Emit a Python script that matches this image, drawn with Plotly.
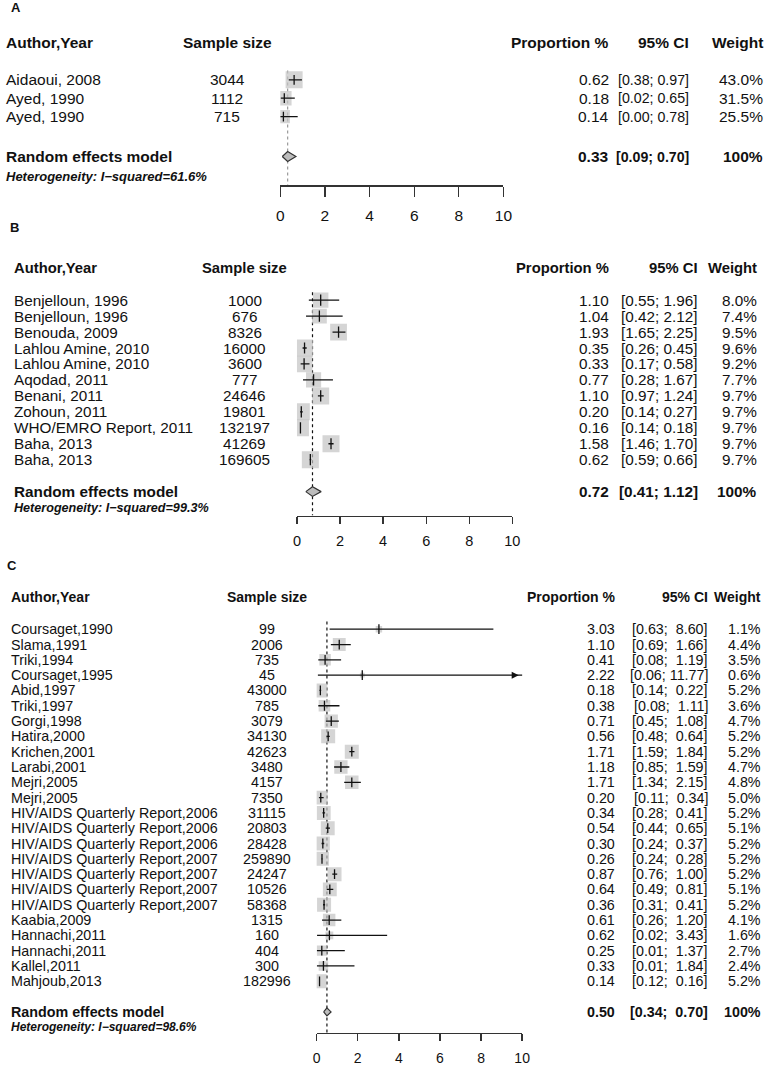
import plotly.graph_objects as go

W, H = 774, 1066
FONT = "Liberation Sans, Arial, Helvetica, sans-serif"

# ---------------- data ----------------
# Panel A
a_author = ["Aidaoui, 2008", "Ayed, 1990", "Ayed, 1990"]
a_n = [3044, 1112, 715]
a_prop = [0.62, 0.18, 0.14]
a_lo = [0.38, 0.02, 0.00]
a_hi = [0.97, 0.65, 0.78]
a_w = [43.0, 31.5, 25.5]
a_pooled = [0.33, 0.09, 0.70]
a_i2 = 61.6

# Panel B
b_author = ["Benjelloun, 1996", "Benjelloun, 1996", "Benouda, 2009", "Lahlou Amine, 2010",
            "Lahlou Amine, 2010", "Aqodad, 2011", "Benani, 2011", "Zohoun, 2011",
            "WHO/EMRO Report, 2011", "Baha, 2013", "Baha, 2013"]
b_n = [1000, 676, 8326, 16000, 3600, 777, 24646, 19801, 132197, 41269, 169605]
b_prop = [1.10, 1.04, 1.93, 0.35, 0.33, 0.77, 1.10, 0.20, 0.16, 1.58, 0.62]
b_lo = [0.55, 0.42, 1.65, 0.26, 0.17, 0.28, 0.97, 0.14, 0.14, 1.46, 0.59]
b_hi = [1.96, 2.12, 2.25, 0.45, 0.58, 1.67, 1.24, 0.27, 0.18, 1.70, 0.66]
b_w = [8.0, 7.4, 9.5, 9.6, 9.2, 7.7, 9.7, 9.7, 9.7, 9.7, 9.7]
b_pooled = [0.72, 0.41, 1.12]
b_i2 = 99.3

# Panel C
c_author = ["Coursaget,1990", "Slama,1991", "Triki,1994", "Coursaget,1995", "Abid,1997",
            "Triki,1997", "Gorgi,1998", "Hatira,2000", "Krichen,2001", "Larabi,2001",
            "Mejri,2005", "Mejri,2005",
            "HIV/AIDS Quarterly Report,2006", "HIV/AIDS Quarterly Report,2006",
            "HIV/AIDS Quarterly Report,2006", "HIV/AIDS Quarterly Report,2007",
            "HIV/AIDS Quarterly Report,2007", "HIV/AIDS Quarterly Report,2007",
            "HIV/AIDS Quarterly Report,2007", "Kaabia,2009", "Hannachi,2011",
            "Hannachi,2011", "Kallel,2011", "Mahjoub,2013"]
c_n = [99, 2006, 735, 45, 43000, 785, 3079, 34130, 42623, 3480, 4157, 7350,
       31115, 20803, 28428, 259890, 24247, 10526, 58368, 1315, 160, 404, 300, 182996]
c_prop = [3.03, 1.10, 0.41, 2.22, 0.18, 0.38, 0.71, 0.56, 1.71, 1.18, 1.71, 0.20,
          0.34, 0.54, 0.30, 0.26, 0.87, 0.64, 0.36, 0.61, 0.62, 0.25, 0.33, 0.14]
c_lo = [0.63, 0.69, 0.08, 0.06, 0.14, 0.08, 0.45, 0.48, 1.59, 0.85, 1.34, 0.11,
        0.28, 0.44, 0.24, 0.24, 0.76, 0.49, 0.31, 0.26, 0.02, 0.01, 0.01, 0.12]
c_hi = [8.60, 1.66, 1.19, 11.77, 0.22, 1.11, 1.08, 0.64, 1.84, 1.59, 2.15, 0.34,
        0.41, 0.65, 0.37, 0.28, 1.00, 0.81, 0.41, 1.20, 3.43, 1.37, 1.84, 0.16]
c_w = [1.1, 4.4, 3.5, 0.6, 5.2, 3.6, 4.7, 5.2, 5.2, 4.7, 4.8, 5.0,
       5.2, 5.1, 5.2, 5.2, 5.2, 5.1, 5.2, 4.1, 1.6, 2.7, 2.4, 5.2]
c_pooled = [0.50, 0.34, 0.70]
c_i2 = 98.6

x_ticks = [0, 2, 4, 6, 8, 10]
x_range = [0, 10]

# ---------------- layout per panel (pixels) ----------------
panels = [
    dict(label="A", authors=a_author, n=a_n, prop=a_prop, lo=a_lo, hi=a_hi, w=a_w,
         pooled=a_pooled, i2=a_i2, pad_ci=False,
         label_xy=(12, 8), header_px=43, row0=80, step=18.5, rand_r=4.16, het_r=5.24,
         axis_px=186, x0px=281, x10px=508, cols=(2, 227, 615, 697, 772),
         f_body=15.5, f_ci=14.2, f_head=15.5, f_het=13, f_tick=15.5, ticklen=10,
         standoff=6, sq_max=17, dot_color="#9a9a9a", tick_sz=7, dh=0.27),
    dict(label="B", authors=b_author, n=b_n, prop=b_prop, lo=b_lo, hi=b_hi, w=b_w,
         pooled=b_pooled, i2=b_i2, pad_ci=False,
         label_xy=(11, 228), header_px=269, row0=301, step=16.0, rand_r=12, het_r=13,
         axis_px=517, x0px=298, x10px=517, cols=(10, 245, 615, 706, 766),
         f_body=15.3, f_ci=15.3, f_head=14.8, f_het=12.6, f_tick=14.5, ticklen=7,
         standoff=5, sq_max=17, dot_color="#111111", tick_sz=8, dh=0.3),
    dict(label="C", authors=c_author, n=c_n, prop=c_prop, lo=c_lo, hi=c_hi, w=c_w,
         pooled=c_pooled, i2=c_i2, pad_ci=True,
         label_xy=(8, 567), header_px=599, row0=631, step=15.35, rand_r=25, het_r=26,
         axis_px=1036, x0px=318, x10px=527, cols=(7, 268, 621, 716, 770),
         f_body=14.3, f_ci=14.3, f_head=14, f_het=12, f_tick=14, ticklen=7,
         standoff=5, sq_max=14, dot_color="#111111", tick_sz=7, dh=0.26),
]

TXT = "#111111"
fig = go.Figure()
annotations = []
layout_axes = {}


def ci_text(lo, hi, pad):
    s_hi = f"{hi:.2f}"
    if pad and len(s_hi) < 5:
        return f"[{lo:.2f};&nbsp; {s_hi}]"
    return f"[{lo:.2f}; {s_hi}]"


for i, p in enumerate(panels):
    k = "" if i == 0 else str(i + 1)
    xa, ya = "x" + k, "y" + k
    row0, step = p["row0"], p["step"]

    def r_of(px):
        return (px - row0) / step

    top_px = p["header_px"] - 14
    layout_axes["xaxis" + k] = dict(
        domain=[p["x0px"] / W, p["x10px"] / W], range=x_range, anchor=ya,
        tickvals=x_ticks, ticks="outside", ticklen=p["ticklen"], tickwidth=1.3,
        tickcolor="#333333", showline=True, linecolor="#333333", linewidth=1.3,
        showgrid=False, zeroline=False, fixedrange=True,
        tickfont=dict(family=FONT, size=p["f_tick"], color=TXT),
        ticklabelstandoff=p["standoff"])
    layout_axes["yaxis" + k] = dict(
        domain=[1 - p["axis_px"] / H, 1 - top_px / H],
        range=[r_of(p["axis_px"]), r_of(top_px)], anchor=xa, visible=False,
        showgrid=False, zeroline=False, fixedrange=True)

    n = len(p["authors"])
    rows = list(range(n))

    # pooled dotted line
    fig.add_trace(go.Scatter(
        x=[p["pooled"][0], p["pooled"][0]], y=[-0.5, r_of(p["axis_px"])],
        mode="lines", line=dict(color=p["dot_color"], width=1.2, dash="dot"),
        xaxis=xa, yaxis=ya, hoverinfo="skip", showlegend=False))

    # squares
    wmax = max(p["w"])
    sizes = [p["sq_max"] * (w / wmax) ** 0.5 for w in p["w"]]
    fig.add_trace(go.Scatter(
        x=p["prop"], y=rows, mode="markers",
        marker=dict(symbol="square", size=sizes, color="#c3c3c3", line=dict(width=0)),
        xaxis=xa, yaxis=ya, hoverinfo="skip", showlegend=False))

    # CI lines
    cx, cy = [], []
    for r, lo, hi in zip(rows, p["lo"], p["hi"]):
        cx += [lo, hi, None]
        cy += [r, r, None]
    fig.add_trace(go.Scatter(
        x=cx, y=cy, mode="lines", line=dict(color="#111111", width=1.3),
        xaxis=xa, yaxis=ya, hoverinfo="skip", showlegend=False))

    # estimate ticks
    fig.add_trace(go.Scatter(
        x=p["prop"], y=rows, mode="markers",
        marker=dict(symbol="line-ns", size=p["tick_sz"],
                    line=dict(color="#111111", width=1.3)),
        xaxis=xa, yaxis=ya, hoverinfo="skip", showlegend=False))

    # arrows for CIs beyond the axis
    ppu = (p["x10px"] - p["x0px"]) / (x_range[1] - x_range[0])
    ar_y = [r for r, hi in zip(rows, p["hi"]) if hi > x_range[1]]
    if ar_y:
        fig.add_trace(go.Scatter(
            x=[x_range[1] - 3.5 / ppu] * len(ar_y), y=ar_y, mode="markers",
            marker=dict(symbol="arrow-right", size=7, color="#111111",
                        line=dict(width=0)),
            cliponaxis=False, xaxis=xa, yaxis=ya, hoverinfo="skip", showlegend=False))

    # diamond
    est, plo, phi = p["pooled"]
    rr, dh = p["rand_r"], p["dh"]
    fig.add_trace(go.Scatter(
        x=[plo, est, phi, est, plo], y=[rr, rr - dh, rr, rr + dh, rr],
        mode="lines", fill="toself", fillcolor="#bdbdbd",
        line=dict(color="#333333", width=1.2),
        xaxis=xa, yaxis=ya, hoverinfo="skip", showlegend=False))

    # ---------- text ----------
    cl, cn, cp, cc, cw = [c / W for c in p["cols"]]

    def ann(x, y, text, anchor, size, yref=ya):
        annotations.append(dict(
            x=x, y=y, xref="paper", yref=yref, text=text, showarrow=False,
            xanchor=anchor, yanchor="middle", align=anchor if anchor != "center" else "center",
            borderpad=0, borderwidth=0,
            font=dict(family=FONT, size=size, color=TXT)))

    # panel label
    annotations.append(dict(
        x=p["label_xy"][0] / W, y=1 - p["label_xy"][1] / H, xref="paper", yref="paper",
        text=f"<b>{p['label']}</b>", showarrow=False, xanchor="center",
        yanchor="middle", font=dict(family=FONT, size=13, color=TXT)))

    hr = r_of(p["header_px"])
    fh = p["f_head"]
    ann(cl, hr, "<b>Author,Year</b>", "left", fh)
    ann(cn, hr, "<b>Sample size</b>", "center", fh)
    ann(cp, hr, "<b>Proportion %</b>", "right", fh)
    ann(cc, hr, "<b>95% CI</b>", "right", fh)
    ann(cw, hr, "<b>Weight</b>", "right", fh)

    fb, fc = p["f_body"], p["f_ci"]
    for r in rows:
        ann(cl, r, p["authors"][r], "left", fb)
        ann(cn, r, str(p["n"][r]), "center", fb)
        ann(cp, r, f"{p['prop'][r]:.2f}", "right", fb)
        ann(cc, r, ci_text(p["lo"][r], p["hi"][r], p["pad_ci"]), "right", fc)
        ann(cw, r, f"{p['w'][r]:.1f}%", "right", fb)

    ann(cl, rr, "<b>Random effects model</b>", "left", fb)
    ann(cp, rr, f"<b>{est:.2f}</b>", "right", fb)
    ann(cc, rr, "<b>" + ci_text(plo, phi, p["pad_ci"]) + "</b>", "right", fc)
    ann(cw, rr, "<b>100%</b>", "right", fb)
    ann(cl, p["het_r"], f"<b><i>Heterogeneity: I\u2212squared={p['i2']:.1f}%</i></b>",
        "left", p["f_het"])

fig.update_layout(
    width=W, height=H, autosize=False,
    margin=dict(l=0, r=0, t=0, b=0, pad=0),
    paper_bgcolor="white", plot_bgcolor="rgba(0,0,0,0)",
    showlegend=False, annotations=annotations,
    font=dict(family=FONT, color=TXT),
    **layout_axes)

fig.write_html(
    "out.html",
    config={"displayModeBar": False, "staticPlot": True},
    post_script="document.body.style.margin='0';document.body.style.padding='0';"
                "document.body.style.overflow='hidden';")
